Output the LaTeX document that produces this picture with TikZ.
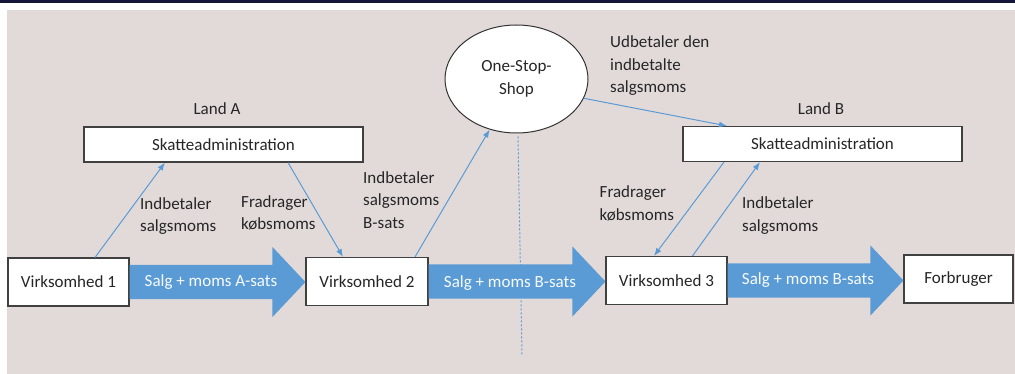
\documentclass[tikz,border=0pt]{standalone}
\usepackage{fontspec}
\setmainfont{Carlito}
\usetikzlibrary{arrows.meta,calc,shapes.geometric}
\definecolor{bg}{HTML}{E2DAD9}
\definecolor{navy}{HTML}{141538}
\definecolor{flow}{HTML}{5B9BD5}
\definecolor{ink}{HTML}{262626}

\newcommand\flowarrow[2]{%
  \fill[flow] let \p1=(#1.east), \p2=(#2.west) in
    (\x1,\y1+17pt) -- (\x2-33pt,\y1+17pt) -- (\x2-33pt,\y1+35pt) -- (\x2,\y1)
    -- (\x2-33pt,\y1-35pt) -- (\x2-33pt,\y1-17pt) -- (\x1,\y1-17pt) -- cycle;}

\begin{document}
\begin{tikzpicture}[x=1pt,y=-1pt,>={Latex[length=8pt,width=6pt]},
  every node/.style={font=\fontsize{17}{22.5}\selectfont,text=ink},
  box/.style={draw=black!75,fill=white,line width=1.1pt,inner sep=0,minimum height=48pt},
  tax/.style={box,minimum width=279pt,minimum height=35pt},
  note/.style={align=left,anchor=west,inner sep=0},
  pay/.style={->,draw=flow,line width=1pt},
  flowtext/.style={text=white!96!flow,inner sep=0}]
  \useasboundingbox (0,0) rectangle (1015,374);
  \fill[white] (0,0) rectangle (1015,374);
  \fill[navy] (0,0) rectangle (1015,3);
  \fill[bg] (7,10) rectangle (1015,374);

  \node[box,minimum width=121pt] (v1) at (68.5,282) {Virksomhed 1};
  \node[box,minimum width=122pt] (v2) at (367,281.5) {Virksomhed 2};
  \node[box,minimum width=121pt] (v3) at (666.5,280.5) {Virksomhed 3};
  \node[box,minimum width=109pt] (fb) at (958.5,279) {Forbruger};
  \node[tax] (sa) at (223.5,144.5) {Skatteadministration};
  \node[tax] (sb) at (822.5,144) {Skatteadministration};
  \node[inner sep=0] (landa) at (217,109) {Land A};
  \node[inner sep=0] (landb) at (821,109) {Land B};
  \node[ellipse,draw=black!80,fill=white,line width=1pt,minimum width=143pt,
        minimum height=108pt,align=center,inner sep=0] (oss) at (516.5,79) {One-Stop-\\Shop};

  \coordinate (border) at (522,355);
  \draw[flow,line width=1pt,dash pattern=on 2pt off 2pt] ([shift={(1.5,3)}]oss.south) -- (border);

  \flowarrow{v1}{v2}
  \flowarrow{v2}{v3}
  \flowarrow{v3}{fb}
  \node[flowtext] (ta) at (211,282) {Salg + moms A-sats};
  \node[flowtext] (tb) at (510,283) {Salg + moms B-sats};
  \node[flowtext] (tc) at (808,280) {Salg + moms B-sats};

  \draw[pay] ([xshift=26.5pt]v1.north) -- ([xshift=-58.5pt]sa.south);
  \draw[pay] ([xshift=64.5pt]sa.south) -- ([xshift=-24pt]v2.north);
  \draw[pay] ([xshift=48pt]v2.north) -- (oss.-118);
  \draw[pay] (oss.-16) -- ([xshift=-95.5pt]sb.north);
  \draw[pay] ([xshift=-98.5pt]sb.south) -- ([xshift=-12.5pt]v3.north);
  \draw[pay] ([xshift=26pt]v3.north) -- ([xshift=-62.5pt]sb.south);

  \node[note] (ia) at (140,216) {Indbetaler\\salgsmoms};
  \node[note] (fa) at (241,213) {Fradrager\\købsmoms};
  \node[note] (ib) at (363,200) {Indbetaler\\salgsmoms\\B-sats};
  \node[note] (ud) at (610,66) {Udbetaler den\\indbetalte\\salgsmoms};
  \node[note] (fb3) at (599.5,203.5) {Fradrager\\købsmoms};
  \node[note] (ib3) at (742,215.5) {Indbetaler\\salgsmoms};
\end{tikzpicture}
\end{document}
